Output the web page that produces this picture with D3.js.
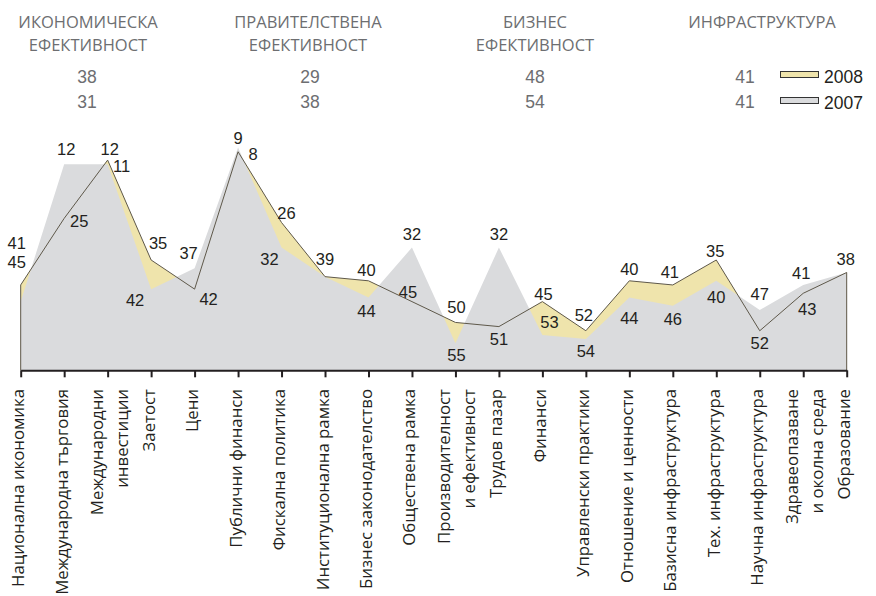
<!DOCTYPE html>
<html>
<head>
<meta charset="utf-8">
<script src="https://cdn.jsdelivr.net/npm/d3@7"></script>
<style>
  body { margin: 0; background: #ffffff; }
  svg { display: block; }
</style>
</head>
<body>
<script>
// ! Data: Bulgaria competitiveness ranks by factor
const categories = [
  "Национална икономика", "Международна търговия", "Международни\nинвестиции",
  "Заетост", "Цени", "Публични финанси", "Фискална политика",
  "Институционална рамка", "Бизнес законодателство", "Обществена рамка",
  "Производителност\nи ефективност", "Трудов пазар", "Финанси",
  "Управленски практики", "Отношение и ценности", "Базисна инфраструктура",
  "Тех. инфраструктура", "Научна инфраструктура", "Здравеопазване\nи околна среда",
  "Образование"
];
const rank2008 = [41, 25, 11, 35, 42, 9, 26, 39, 40, 45, 50, 51, 45, 52, 40, 41, 35, 52, 43, 38];
const rank2007 = [45, 12, 12, 42, 37, 8, 32, 39, 44, 32, 55, 32, 53, 54, 44, 46, 40, 47, 41, 38];

const groupNames = [
  ["ИКОНОМИЧЕСКА", "ЕФЕКТИВНОСТ"],
  ["ПРАВИТЕЛСТВЕНА", "ЕФЕКТИВНОСТ"],
  ["БИЗНЕС", "ЕФЕКТИВНОСТ"],
  ["ИНФРАСТРУКТУРА"]
];
const groupRank2008 = [38, 29, 48, 41];
const groupRank2007 = [31, 38, 54, 41];
const years = ["2008", "2007"];

// ! Layout helpers (label nudges relative to each point, [dx, dy])
// prettier-ignore
const nudge2008 = [[-4,-36],[15,9],[14,12],[7,-11],[14,16],[0,-8],[5,-4],[0,-12],[-2,-5],[-4,-4],
  [1,-9],[0,18],[1,-2],[-2,-10],[0,-6],[-3,-7],[-1,-3],[0,18],[4,22],[-1,-7]];
// prettier-ignore
const nudge2007 = [[-4,-34],[2,-9],[2,-9],[-16,17],[-6,-9],[15,12],[-12,17],null,[-2,20],[0,-8],
  [1,18],[0,-8],[7,-7],[0,18],[0,27],[0,19],[0,22],[0,-10],[-2,-6],null];
const groupTitleX = [88, 308, 535, 762];
const groupNumX = [87, 310, 535, 745];

const width = 876;
const height = 596;
const yellow = "#efe4ac";
const grey = "#dadbdd";
const ink = "#231f20";
const soft = "#6d6e71";
const labelFont = "'Open Sans', 'Noto Sans', sans-serif";
const numFont = "'Liberation Sans', Arial, sans-serif";

const svg = d3
  .select("body")
  .append("svg")
  .attr("width", width)
  .attr("height", height)
  .style("background-color", "white");

// ! Scales
const x = d3
  .scalePoint()
  .domain(d3.range(categories.length))
  .range([20.7, 846.7]);

const y = d3.scaleLinear().domain([0, 61.5]).range([114.3, 370.3]);
const base = y(61.5);

// ! Areas: 2008 under, 2007 over, 2008 outline on top
const area = d3
  .area()
  .x((d, i) => x(i))
  .y0(base)
  .y1((d) => y(d));

svg.append("path").datum(rank2008).attr("d", area).attr("fill", yellow);
svg.append("path").datum(rank2007).attr("d", area).attr("fill", grey);

const outlinePts = [[x(0), base]]
  .concat(rank2008.map((d, i) => [x(i), y(d)]))
  .concat([[x(rank2008.length - 1), base]]);
svg
  .append("path")
  .datum(outlinePts)
  .attr("d", d3.line())
  .attr("fill", "none")
  .attr("stroke", "#5e584a")
  .attr("stroke-width", 1);

// ! X axis
const xAxisG = svg
  .append("g")
  .attr("transform", `translate(0, ${base})`)
  .call(d3.axisBottom(x).tickSize(7).tickSizeOuter(0).tickFormat(""));
xAxisG.select(".domain").attr("stroke", ink).attr("stroke-width", 2);
xAxisG.selectAll(".tick line").attr("stroke", ink).attr("stroke-width", 2);

// ! Category labels (rotated)
const catG = svg
  .selectAll(".cat")
  .data(categories)
  .enter()
  .append("text")
  .attr("class", "cat")
  .attr("transform", (d, i) => `translate(${x(i)}, 389) rotate(-90)`)
  .attr("text-anchor", "end")
  .style("font-family", labelFont)
  .style("font-size", "16.8px")
  .attr("fill", ink);
catG.each(function (d) {
  const lines = d.split("\n");
  const offs = lines.length === 1 ? [3.5] : [-5, 20];
  lines.forEach((line, k) => {
    d3.select(this).append("tspan").attr("x", 0).attr("y", offs[k]).text(line);
  });
});

// ! Value labels
function valueLabels(values, nudges) {
  svg
    .append("g")
    .selectAll("text")
    .data(values.map((v, i) => ({ v, i, n: nudges[i] })).filter((d) => d.n))
    .enter()
    .append("text")
    .attr("x", (d) => x(d.i) + d.n[0])
    .attr("y", (d) => y(d.v) + d.n[1])
    .attr("text-anchor", "middle")
    .style("font-family", numFont)
    .style("font-size", "16.5px")
    .attr("fill", ink)
    .text((d) => d.v);
}
valueLabels(rank2008, nudge2008);
valueLabels(rank2007, nudge2007);

// ! Group headers
groupNames.forEach((lines, g) => {
  const t = svg
    .append("text")
    .attr("text-anchor", "middle")
    .style("font-family", labelFont)
    .style("font-size", "16.5px")
    .attr("fill", soft);
  lines.forEach((line, k) => {
    t.append("tspan").attr("x", groupTitleX[g]).attr("y", 28 + k * 22.5).text(line);
  });
  [groupRank2008[g], groupRank2007[g]].forEach((v, k) => {
    svg
      .append("text")
      .attr("x", groupNumX[g])
      .attr("y", 83 + k * 25)
      .attr("text-anchor", "middle")
      .style("font-family", numFont)
      .style("font-size", "17.5px")
      .attr("fill", soft)
      .text(v);
  });
});

// ! Legend
const legendFill = [yellow, grey];
svg
  .selectAll(".legendRect")
  .data(years)
  .enter()
  .append("rect")
  .attr("class", "legendRect")
  .attr("x", 780.5)
  .attr("y", (d, i) => 71.5 + i * 26)
  .attr("width", 38)
  .attr("height", 6)
  .style("fill", (d, i) => legendFill[i])
  .style("stroke", "#333333")
  .style("stroke-width", "1px");
svg
  .selectAll(".legendText")
  .data(years)
  .enter()
  .append("text")
  .attr("class", "legendText")
  .attr("x", 824)
  .attr("y", (d, i) => 82.5 + i * 26)
  .style("font-family", numFont)
  .style("font-size", "17.5px")
  .attr("fill", ink)
  .text((d) => d);
</script>
</body>
</html>
